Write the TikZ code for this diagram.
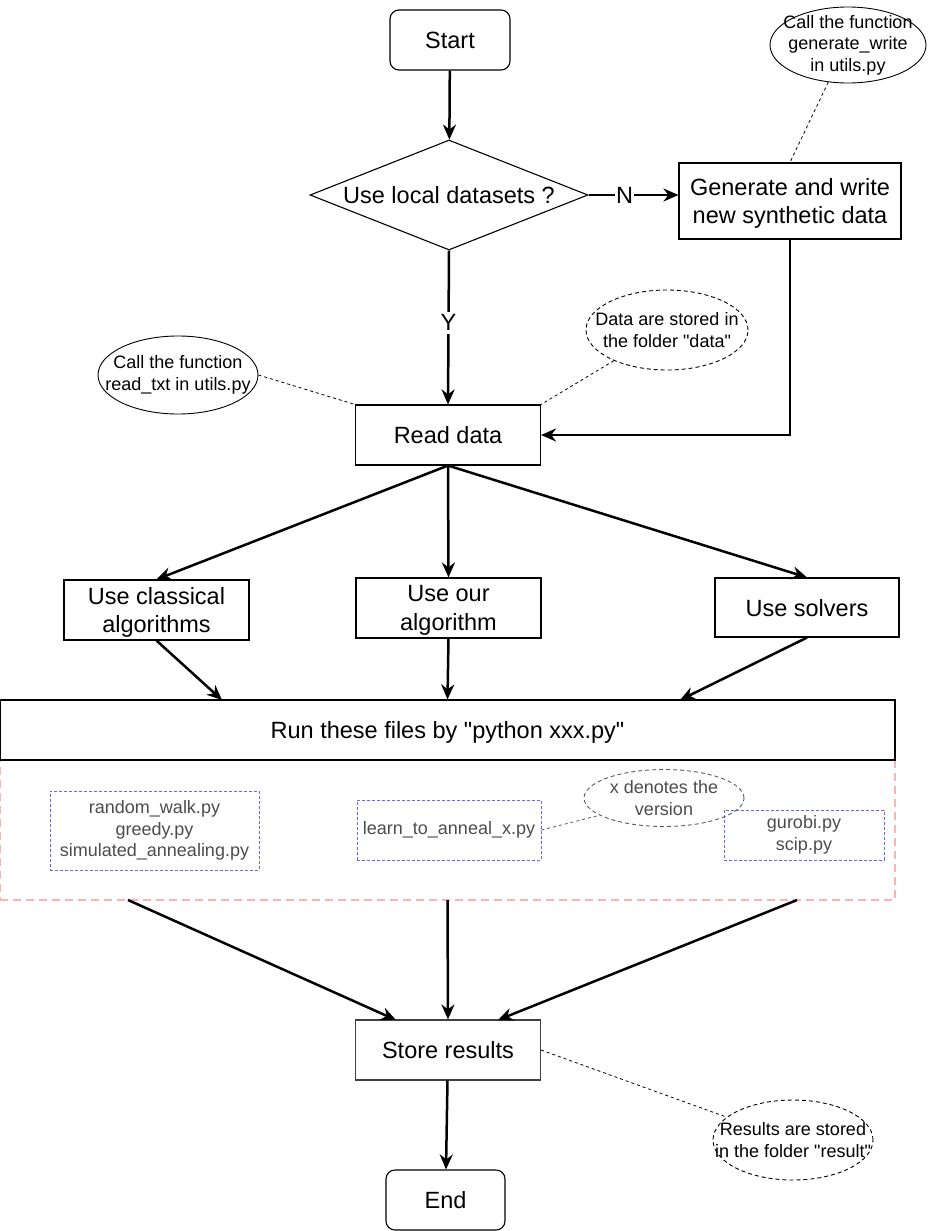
\documentclass[tikz,border=0pt]{standalone}
\usepackage{fontspec}
\setmainfont{Liberation Sans}[Ligatures=TeXOff]
\usetikzlibrary{arrows.meta,shapes.geometric}
\tikzset{
    box/.style={draw, line width=1.1pt, minimum width=185pt, minimum height=60pt, inner sep=0pt, text depth=0pt, align=center, font=\fontsize{23.5}{28.8}\selectfont}, % process box
    term/.style={box, rounded corners=9pt, minimum width=120pt}, % start / end
    bubble/.style={ellipse, draw, line width=0.9pt, inner sep=0pt}, % note ellipse
    bubbletext/.style={align=center, inner sep=0pt, font=\fontsize{18}{21.6}\selectfont},
    pyfile/.style={draw=blue!60, dash pattern=on 3pt off 2pt, line width=0.8pt, inner sep=0pt, align=center, text=black!70, font=\fontsize{18}{21.6}\selectfont},
    flow/.style={line width=2.5pt, -{Stealth[length=15pt, width=13pt]}},
    hint/.style={dash pattern=on 3pt off 3pt, line width=0.8pt},
    dashy/.style={dash pattern=on 4pt off 3pt}
}

\begin{document}
\begin{tikzpicture}[x=1pt, y=-1pt]
    \useasboundingbox (0,0) rectangle (930,1231);

    % main flow
    \node[term] (start) at (450,40) {Start};
    \node[diamond, aspect=2.53, draw, line width=1.1pt, minimum width=278pt, minimum height=110pt, inner sep=0pt, font=\fontsize{23.5}{28.8}\selectfont] (local) at (449,195) {Use local datasets ?};
    \node[box, minimum width=222pt, minimum height=76pt] (gen) at (790,201) {Generate and write\\new synthetic data};
    \node[box] (read) at (448,435) {Read data};
    \node[box] (classic) at (156.5,610) {Use classical\\algorithms};
    \node[box] (ours) at (448.5,608) {Use our\\algorithm};
    \node[box, minimum width=184pt, minimum height=59pt] (solver) at (807,607.5) {Use solvers};
    \node[draw=red!30, dash pattern=on 8pt off 5pt, line width=1.1pt, minimum width=895pt, minimum height=140pt, inner sep=0pt] (files) at (447.5,830) {};
    \node[box, minimum width=895pt] (run) at (447.5,730) {Run these files by "python xxx.py"};
    \node[box, draw=black!75] (store) at (448,1050) {Store results};
    \node[term, minimum width=119pt] (end) at (445.5,1200) {End};

    % files to run
    \node[pyfile, minimum width=209pt, minimum height=79pt] (fclassic) at (154.5,830.5) {random\_walk.py\\greedy.py\\simulated\_annealing.py};
    \node[pyfile, minimum width=184pt, minimum height=60pt] (fours) at (449,830) {learn\_to\_anneal\_x.py};
    \node[pyfile, minimum width=160pt, minimum height=50pt] (fsolver) at (804,835) {gurobi.py\\scip.py};

    % notes
    \node[bubble, minimum width=156pt, minimum height=76pt] (n1) at (848,45) {};
    \node[bubbletext] (n1t) at (n1) {Call the function\\generate\_write\\in utils.py};
    \node[bubble, minimum width=160pt, minimum height=78pt] (n2) at (178,375) {};
    \node[bubbletext] (n2t) at (n2) {Call the function\\read\_txt in utils.py};
    \node[bubble, dashy, minimum width=162pt, minimum height=80pt] (n3) at (667,330) {};
    \node[bubbletext] (n3t) at (n3) {Data are stored in\\the folder "data"};
    \node[bubble, dashy, draw=black!65, minimum width=160pt, minimum height=57pt] (n4) at (664,798) {};
    \node[bubbletext, text=black!70] (n4t) at (n4) {x denotes the\\version};
    \node[bubble, dashy, minimum width=160pt, minimum height=80pt] (n5) at (793,1140) {};
    \node[bubbletext] (n5t) at (n5) {Results are stored\\in the folder "result"};

    % entry and exit points on the wide boxes
    \coordinate (runL) at (222,700);
    \coordinate (runR) at (680,700);
    \coordinate (outL) at (128,900);
    \coordinate (outM) at (447.5,900);
    \coordinate (outR) at (797,900);
    \coordinate (storeL) at (396,1020);
    \coordinate (storeR) at (498,1020);
    \coordinate (bend) at (790,435);

    % arrows
    \draw[flow] (start) -- (local);
    \draw[flow] (local.east) -- (local.east -| gen.west) node[pos=0.4, fill=white, inner sep=1pt, font=\fontsize{23.5}{28.8}\selectfont] (nlab) {N};
    \draw[flow] (local.south) -- (read.north) node[pos=0.47, fill=white, inner sep=3pt, font=\fontsize{23.5}{28.8}\selectfont] (ylab) {Y};
    \draw[flow] (gen.south) -- (bend) -- (read.east);
    \draw[flow] (read.south) -- (classic.north);
    \draw[flow] (read.south) -- (ours.north);
    \draw[flow] (read.south) -- (solver.north);
    \draw[flow] (classic.south) -- (runL);
    \draw[flow] (ours.south) -- (run.north);
    \draw[flow] (solver.south) -- (runR);
    \draw[flow] (outL) -- (storeL);
    \draw[flow] (outM) -- (store.north);
    \draw[flow] (outR) -- (storeR);
    \draw[flow] (store) -- (end);

    % note links
    \draw[hint] (n1.242) -- (gen.north);
    \draw[hint] (n2.east) -- (read.north west);
    \draw[hint] (n3.210) -- (read.north east);
    \draw[hint, black!65] (fours.east) -- (n4.195);
    \draw[hint] (store.east) -- (n5.161);
\end{tikzpicture}
\end{document}
